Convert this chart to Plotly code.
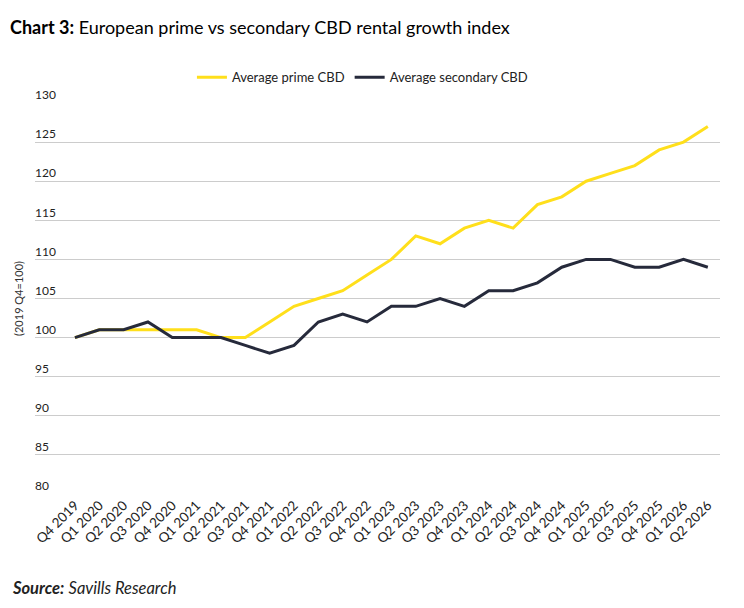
"""European prime vs secondary CBD rental growth index (Savills chart 3)."""

import plotly.graph_objects as go

quarters = [
    "Q4 2019", "Q1 2020", "Q2 2020", "Q3 2020", "Q4 2020", "Q1 2021", "Q2 2021",
    "Q3 2021", "Q4 2021", "Q1 2022", "Q2 2022", "Q3 2022", "Q4 2022", "Q1 2023",
    "Q2 2023", "Q3 2023", "Q4 2023", "Q1 2024", "Q2 2024", "Q3 2024", "Q4 2024",
    "Q1 2025", "Q2 2025", "Q3 2025", "Q4 2025", "Q1 2026", "Q2 2026",
]
prime_cbd = [
    100, 101, 101, 101, 101, 101, 100, 100, 102, 104, 105, 106, 108, 110,
    113, 112, 114, 115, 114, 117, 118, 120, 121, 122, 124, 125, 127,
]
secondary_cbd = [
    100, 101, 101, 102, 100, 100, 100, 99, 98, 99, 102, 103, 102, 104,
    104, 105, 104, 106, 106, 107, 109, 110, 110, 109, 109, 110, 109,
]
y_ticks = [80, 85, 90, 95, 100, 105, 110, 115, 120, 125, 130]

YELLOW = "#FFDF1B"
NAVY = "#262A3B"
FONT = "Lato"

# the page body has an 8px default margin, so the figure is 8px smaller
W, H = 736, 600

fig = go.Figure()
fig.add_trace(go.Scatter(
    x=quarters, y=prime_cbd, name="Average prime CBD", mode="lines",
    line=dict(color=YELLOW, width=3),
))
fig.add_trace(go.Scatter(
    x=quarters, y=secondary_cbd, name="Average secondary CBD", mode="lines",
    line=dict(color=NAVY, width=3),
))

fig.update_layout(
    width=W,
    height=H,
    margin=dict(l=27, r=24, t=95, b=114, autoexpand=False),
    paper_bgcolor="white",
    plot_bgcolor="white",
    font=dict(family=FONT, size=12, color="#222222"),
    title=dict(
        text="<b>Chart 3:</b> European prime vs secondary CBD rental growth index",
        x=2 / W, xanchor="left", y=1 - 20 / H, yanchor="middle",
        font=dict(family=FONT, size=18, color="black"),
    ),
    legend=dict(
        orientation="h", x=0.478, xanchor="center", y=1.066, yanchor="middle",
        font=dict(size=13, color="#222222"), itemwidth=30,
    ),
    showlegend=True,
)
fig.update_xaxes(
    type="category",
    range=[-1.64, 26.5],
    tickangle=-45,
    showgrid=False,
    showline=False,
    zeroline=False,
    automargin=False,
    tickfont=dict(size=13.5, color="#222222"),
)
fig.update_yaxes(
    range=[80, 130],
    tickvals=y_ticks,
    ticklabelposition="inside",
    ticklabelshift=-8,
    ticklabeloverflow="allow",
    ticklabelstandoff=-3,
    showgrid=True,
    gridcolor="#CCCCCC",
    gridwidth=1,
    zeroline=False,
    showline=False,
    automargin=False,
    tickfont=dict(size=12, color="#222222"),
    title=dict(text="(2019 Q4=100)", font=dict(size=11, color="#333333"), standoff=9),
)
fig.add_annotation(
    text="<b><i>Source:</i></b> <i>Savills Research</i>",
    xref="paper", yref="paper", x=(10 - 35) / 685, y=(494 - 588) / 391,
    xanchor="left", yanchor="middle", showarrow=False,
    font=dict(family=FONT, size=16.5, color="#222222"),
)

fig.write_html("out.html")
